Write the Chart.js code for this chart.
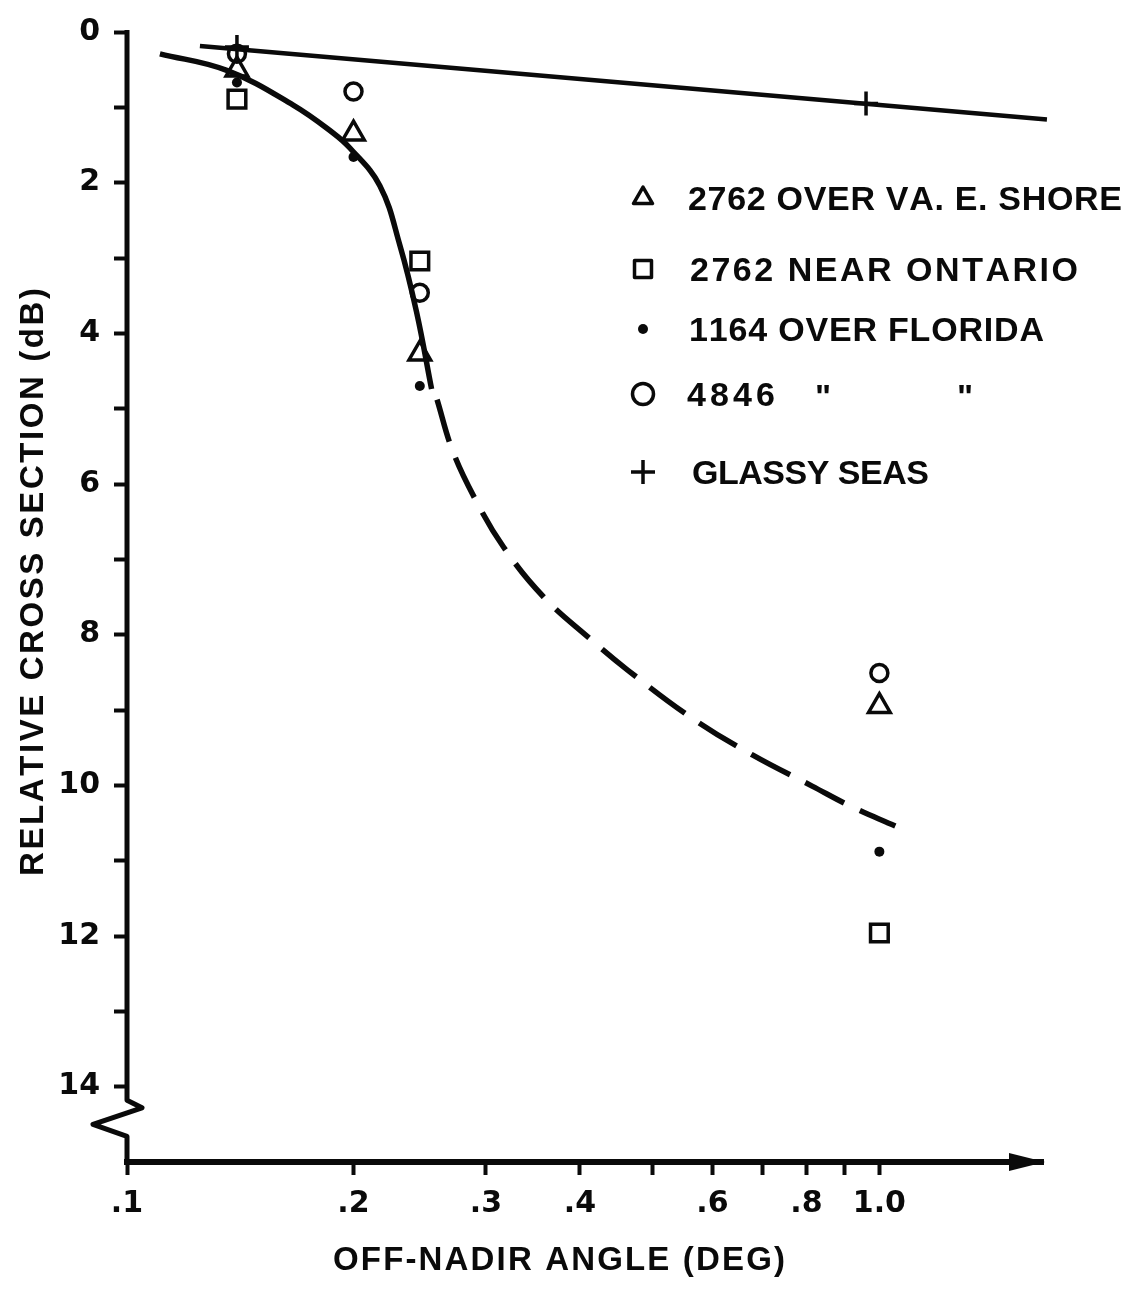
<!DOCTYPE html>
<html>
<head>
<meta charset="utf-8">
<script src="https://cdn.jsdelivr.net/npm/chart.js@4/dist/chart.umd.min.js"></script>
<style>
  html, body { margin: 0; padding: 0; background: #fff; }
  canvas { display: block; }
</style>
</head>
<body>
<canvas id="chart" width="1131" height="1290"></canvas>
<script>
// Measured points: off-nadir angle (deg) vs relative cross section (dB)
const vaShoreAngle = [0.14, 0.2, 0.245, 1.0];
const vaShoreDb = [0.5, 1.35, 4.27, 8.95];

const ontarioAngle = [0.14, 0.245, 1.0];
const ontarioDb = [0.89, 3.04, 11.96];

const florida1164Angle = [0.14, 0.2, 0.245, 1.0];
const florida1164Db = [0.67, 1.66, 4.70, 10.88];

const florida4846Angle = [0.14, 0.2, 0.245, 1.0];
const florida4846Db = [0.29, 0.79, 3.46, 8.51];

const glassyAngle = [0.14, 0.96];
const glassyDb = [0.2, 0.95];

// Straight glassy-sea reference line
const glassyLineAngle = [0.125, 1.67];
const glassyLineDb = [0.185, 1.16];

// Faired curve through the rough-sea points: solid part, then dashed extension
const solidCurveAngle = [0.1106, 0.1357, 0.1663, 0.1879, 0.1978, 0.2168, 0.2305, 0.2425, 0.254];
const solidCurveDb = [0.29, 0.51, 0.97, 1.34, 1.54, 2.04, 2.83, 3.71, 4.74];
const dashedCurveAngle = [0.2583, 0.2707, 0.2899, 0.3167, 0.3579, 0.412, 0.4628, 0.566, 0.679, 0.814, 0.917, 1.05];
const dashedCurveDb = [4.88, 5.55, 6.19, 6.84, 7.50, 8.05, 8.47, 9.12, 9.60, 10.01, 10.28, 10.54];

// Axis ticks
const xTickValues = [0.1, 0.2, 0.3, 0.4, 0.5, 0.6, 0.7, 0.8, 0.9, 1.0];
const xTickLabels = ['.1', '.2', '.3', '.4', '', '.6', '', '.8', '', '1.0'];
const yTickValues = [0, 1, 2, 3, 4, 5, 6, 7, 8, 9, 10, 11, 12, 13, 14];
const yTickLabels = ['0', '', '2', '', '4', '', '6', '', '8', '', '10', '', '12', '', '14'];

const seriesNames = ['2762 OVER VA. E. SHORE', '2762 NEAR ONTARIO', '1164 OVER FLORIDA', '4846 "  "', 'GLASSY SEAS'];
const xTitle = 'OFF-NADIR ANGLE (DEG)';
const yTitle = 'RELATIVE CROSS SECTION (dB)';

const INK = '#0a0a0a';
const FONT = '"DejaVu Sans", "Liberation Sans", sans-serif';
const LEGEND_FONT = '"Liberation Sans", Arial, sans-serif';

const pts = (xs, ys) => xs.map((x, i) => ({ x, y: ys[i] }));

// Draws text letter by letter, spreading the letters over a given width
function spacedText(ctx, text, left, baseline, width) {
  const chars = [...text];
  const widths = chars.map(c => ctx.measureText(c).width);
  const total = widths.reduce((s, w) => s + w, 0);
  const gap = chars.length > 1 ? (width - total) / (chars.length - 1) : 0;
  let cx = left;
  chars.forEach((c, i) => {
    ctx.fillText(c, cx, baseline);
    cx += widths[i] + gap;
  });
}

// Legend layout: marker column and one text box per row
const legendLayout = {
  markerX: 643,
  rows: [
    { y: 198, x: 688, width: 434 },
    { y: 269, x: 690, width: 388 },
    { y: 329, x: 689, width: 355 },
    { y: 394, x: 687, width: 88, dittos: [823, 965] },
    { y: 472, x: 692, width: 237 }
  ]
};

const decorPlugin = {
  id: 'decor',
  afterDraw(chart) {
    const { ctx, chartArea: a, scales: { x, y } } = chart;
    ctx.save();
    ctx.strokeStyle = INK;
    ctx.fillStyle = INK;

    // Vertical axis with a break just above the horizontal axis
    const x0 = x.getPixelForValue(0.1);
    ctx.lineWidth = 5;
    ctx.lineJoin = 'round';
    ctx.lineCap = 'butt';
    ctx.beginPath();
    ctx.moveTo(x0, y.getPixelForValue(0) - 2);
    ctx.lineTo(x0, y.getPixelForValue(14.18));
    ctx.lineTo(x0 + 15, y.getPixelForValue(14.28));
    ctx.lineTo(x0 - 34, y.getPixelForValue(14.5));
    ctx.lineTo(x0, y.getPixelForValue(14.66));
    ctx.lineTo(x0, y.getPixelForValue(15));
    ctx.stroke();

    // Arrowhead on the horizontal axis
    const yb = y.getPixelForValue(15);
    ctx.beginPath();
    ctx.moveTo(a.right + 2, yb);
    ctx.lineTo(a.right - 34, yb - 9);
    ctx.lineTo(a.right - 34, yb + 9);
    ctx.closePath();
    ctx.fill();

    // Axis titles
    const tsize = 33;
    ctx.font = 'bold ' + tsize + 'px ' + LEGEND_FONT;
    ctx.textAlign = 'left';
    ctx.textBaseline = 'alphabetic';
    const cap = tsize * 0.72;
    spacedText(ctx, xTitle, 333, 1258 + cap / 2, 452);
    ctx.save();
    ctx.translate(31, 582);
    ctx.rotate(-Math.PI / 2);
    spacedText(ctx, yTitle, -294, cap / 2, 588);
    ctx.restore();

    // Legend
    const lsize = 34;
    ctx.font = 'bold ' + lsize + 'px ' + LEGEND_FONT;
    const lcap = lsize * 0.72;
    const marked = chart.data.datasets.filter(d => d.legendRow !== undefined);
    marked.forEach(d => {
      const row = legendLayout.rows[d.legendRow];
      ctx.save();
      ctx.lineWidth = d.pointBorderWidth;
      ctx.strokeStyle = INK;
      ctx.fillStyle = d.pointBackgroundColor;
      Chart.helpers.drawPoint(ctx, {
        pointStyle: d.pointStyle,
        radius: d.legendRadius,
        borderWidth: d.pointBorderWidth,
        rotation: 0
      }, legendLayout.markerX, row.y);
      ctx.restore();
      const parts = d.label.split('"');
      spacedText(ctx, parts[0].trim(), row.x, row.y + lcap / 2, row.width);
      if (row.dittos) {
        ctx.textAlign = 'center';
        row.dittos.forEach(px => ctx.fillText('"', px, row.y + lcap / 2 + 2));
        ctx.textAlign = 'left';
      }
    });
    ctx.restore();
  }
};

const markerBase = { showLine: false, pointBorderColor: INK, pointBorderWidth: 3.5, pointHoverRadius: 0 };

new Chart(document.getElementById('chart'), {
  type: 'scatter',
  data: {
    datasets: [
      {
        label: 'glassy line', data: pts(glassyLineAngle, glassyLineDb), showLine: true,
        borderColor: INK, borderWidth: 4.5, pointRadius: 0, clip: false
      },
      {
        label: 'curve', data: pts(solidCurveAngle, solidCurveDb), showLine: true,
        borderColor: INK, borderWidth: 5.5, pointRadius: 0, tension: 0.4
      },
      {
        label: 'curve extension', data: pts(dashedCurveAngle, dashedCurveDb), showLine: true,
        borderColor: INK, borderWidth: 5.5, pointRadius: 0, tension: 0.4,
        borderDash: [44, 17], borderCapStyle: 'butt'
      },
      Object.assign({}, markerBase, {
        label: seriesNames[0], legendRow: 0, legendRadius: 11,
        data: pts(vaShoreAngle, vaShoreDb), pointStyle: 'triangle', pointRadius: 12.5,
        pointBackgroundColor: 'rgba(0,0,0,0)'
      }),
      Object.assign({}, markerBase, {
        label: seriesNames[1], legendRow: 1, legendRadius: 12,
        data: pts(ontarioAngle, ontarioDb), pointStyle: 'rect', pointRadius: 12.5,
        pointBackgroundColor: 'rgba(0,0,0,0)'
      }),
      Object.assign({}, markerBase, {
        label: seriesNames[2], legendRow: 2, legendRadius: 5,
        data: pts(florida1164Angle, florida1164Db), pointStyle: 'circle', pointRadius: 5,
        pointBackgroundColor: INK, pointBorderWidth: 0
      }),
      Object.assign({}, markerBase, {
        label: seriesNames[3], legendRow: 3, legendRadius: 10.5,
        data: pts(florida4846Angle, florida4846Db), pointStyle: 'circle', pointRadius: 8.5,
        pointBackgroundColor: 'rgba(0,0,0,0)'
      }),
      Object.assign({}, markerBase, {
        label: seriesNames[4], legendRow: 4, legendRadius: 12,
        data: pts(glassyAngle, glassyDb), pointStyle: 'cross', pointRadius: 12,
        pointBackgroundColor: 'rgba(0,0,0,0)'
      })
    ]
  },
  options: {
    responsive: false,
    animation: false,
    devicePixelRatio: 1,
    layout: { padding: { top: 25, right: 88, bottom: 0, left: 0 } },
    plugins: { legend: { display: false }, tooltip: { enabled: false } },
    events: [],
    scales: {
      x: {
        type: 'logarithmic',
        position: 'bottom',
        min: 0.1,
        max: 1.65,
        afterBuildTicks: s => { s.ticks = xTickValues.map(v => ({ value: v })); },
        afterFit: s => { s.height = 128; },
        ticks: {
          autoSkip: false, maxRotation: 0, minRotation: 0, padding: 11, color: INK,
          font: { family: FONT, size: 30, weight: 'bold' },
          callback: (v, i) => xTickLabels[i]
        },
        grid: { drawOnChartArea: false, drawTicks: true, tickLength: 13, tickWidth: 4, tickColor: INK },
        border: { display: true, width: 6, color: INK }
      },
      y: {
        type: 'linear',
        reverse: true,
        min: 0,
        max: 15,
        afterBuildTicks: s => { s.ticks = yTickValues.map(v => ({ value: v })); },
        afterFit: s => { s.width = 127; },
        ticks: {
          autoSkip: false, padding: 14, color: INK,
          font: { family: FONT, size: 30, weight: 'bold' },
          callback: (v, i) => yTickLabels[i]
        },
        grid: { drawOnChartArea: false, drawTicks: true, tickLength: 13, tickWidth: 4, tickColor: INK },
        border: { display: false }
      }
    }
  },
  plugins: [decorPlugin]
});
</script>
</body>
</html>
